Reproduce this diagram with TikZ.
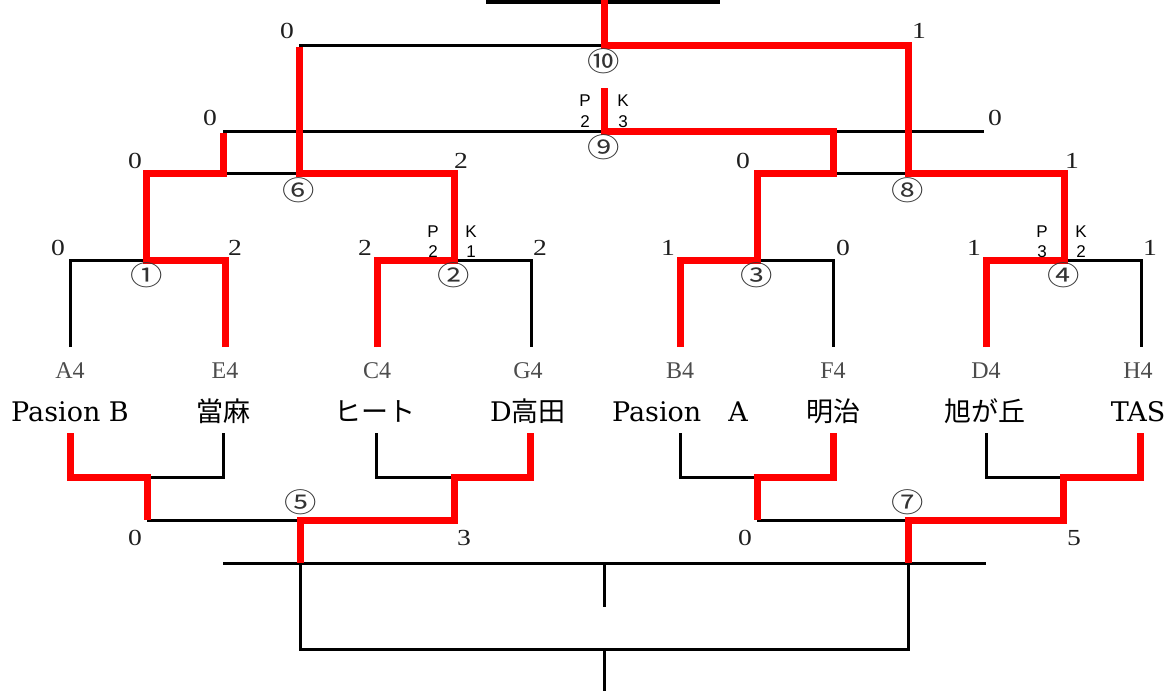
\documentclass[tikz,border=0pt]{standalone}
\usepackage{fontspec}
\setmainfont{Liberation Serif}
\newfontfamily\cjk{Noto Sans CJK JP}
\newfontfamily\circfont[FakeStretch=1.2]{Noto Sans CJK JP}
\newfontfamily\scorefont[FakeStretch=1.2]{Liberation Serif}
\newfontfamily\tfont{DejaVu Serif}
\newfontfamily\pkfont{Liberation Sans}
\begin{document}
\begin{tikzpicture}[x=1pt,y=-1pt,
  blk/.style={line width=3pt,black},
  bar/.style={line width=4.5pt,black},
  win/.style={line width=7pt,red,line join=miter},
  score/.style={font=\scorefont\fontsize{23}{23}\selectfont,inner sep=0pt,anchor=base,text=black!88},
  seed/.style={font=\fontsize{24}{24}\selectfont,inner sep=0pt,anchor=base,text=black!70},
  team/.style={font=\tfont\fontsize{27}{27}\selectfont,inner sep=0pt,anchor=base},
  circ/.style={font=\circfont\fontsize{27}{27}\selectfont,inner sep=0pt,text=black!80},
  pkl/.style={font=\pkfont\fontsize{17}{17}\selectfont,inner sep=0pt,anchor=base}]
\useasboundingbox (0,0) rectangle (1167,691);
% ---------- top half coordinates
\coordinate (tA) at (70,347);  \coordinate (tE) at (225,347);
\coordinate (tC) at (377,347); \coordinate (tG) at (531,347);
\coordinate (tB) at (680,347); \coordinate (tF) at (833,347);
\coordinate (tD) at (986,347); \coordinate (tH) at (1141,347);
\coordinate (m1) at (146,260); \coordinate (m2) at (454,260);
\coordinate (m3) at (757,260); \coordinate (m4) at (1064,260);
\coordinate (m1u) at (146,173); \coordinate (m2u) at (454,173);
\coordinate (m3u) at (757,173); \coordinate (m4u) at (1064,173);
\coordinate (m6) at (299,173); \coordinate (m8) at (908,173);
\coordinate (l6) at (223,173); \coordinate (l8) at (833,173);
\coordinate (n9L) at (223,131); \coordinate (n9R) at (984,131);
\coordinate (n9) at (604,131); \coordinate (l8u) at (833,131);
\coordinate (n9t) at (604,88);
\coordinate (m6t) at (299,45); \coordinate (m8t) at (908,45);
\coordinate (m10) at (604,45); \coordinate (top) at (604,0);
\coordinate (barL) at (486,1.5); \coordinate (barR) at (720,1.5);
% ---------- bottom half coordinates
\coordinate (bA) at (70,433);  \coordinate (bE) at (223,433);
\coordinate (bC) at (376,433); \coordinate (bG) at (530,433);
\coordinate (bB) at (680,433); \coordinate (bF) at (833,433);
\coordinate (bD) at (986,433); \coordinate (bH) at (1140,433);
\coordinate (k1) at (147,477); \coordinate (k2) at (454,477);
\coordinate (k3) at (757,477); \coordinate (k4) at (1063,477);
\coordinate (k1d) at (147,520); \coordinate (k2d) at (454,520);
\coordinate (k3d) at (757,520); \coordinate (k4d) at (1063,520);
\coordinate (k5) at (300,520); \coordinate (k7) at (908,520);
\coordinate (f5) at (300,563); \coordinate (f7) at (908,563);
\coordinate (gL) at (223,563); \coordinate (gR) at (986,563);
\coordinate (gc) at (604,563); \coordinate (gcs) at (604,607);
\coordinate (h5) at (300,649); \coordinate (h7) at (908,649);
\coordinate (hc) at (604,649); \coordinate (hb) at (604,691);
% ---------- black lines
\draw[bar] (barL) -- (barR);
\draw[blk] (tA) |- (m1) -| (tE);
\draw[blk] (tC) |- (m2) -| (tG);
\draw[blk] (tB) |- (m3) -| (tF);
\draw[blk] (tD) |- (m4) -| (tH);
\draw[blk] (m1u) -- (m2u);
\draw[blk] (m3u) -- (m4u);
\draw[blk] (n9L) -- (n9R);
\draw[blk] (m6t) -- (m8t);
\draw[blk] (bA) |- (k1) -| (bE);
\draw[blk] (bC) |- (k2) -| (bG);
\draw[blk] (bB) |- (k3) -| (bF);
\draw[blk] (bD) |- (k4) -| (bH);
\draw[blk] (k1d) -- (k2d);
\draw[blk] (k3d) -- (k4d);
\draw[blk] (gL) -- (gR);
\draw[blk] (gc) -- (gcs);
\draw[blk] (f5) -- (h5) -- (h7) -- (f7);
\draw[blk] (hc) -- (hb);
% ---------- red (winner) lines
\draw[win] (tE) |- (m1) -- (m1u) -- (l6) -- ([yshift=-1.5pt]n9L);
\draw[win] (tC) |- (m2) -- (m2u) -- (m6) -- ([yshift=-1.5pt]m6t);
\draw[win] (tB) |- (m3) -- (m3u) -- (l8) -- (l8u) -- (n9) -- (n9t);
\draw[win] (tD) |- (m4) -- (m4u) -- (m8) -- (m8t) -- (m10) -- (top);
\draw[win] (bA) |- (k1) -- (k1d);
\draw[win] (bG) |- (k2) -- (k2d) -- (k5) -- (f5);
\draw[win] (bF) |- (k3) -- (k3d);
\draw[win] (bH) |- (k4) -- (k4d) -- (k7) -- (f7);
% ---------- scores
\node[score] (s10L) at (287,38) {0};
\node[score] (s10R) at (919,38) {1};
\node[score] (s9L) at (210,125) {0};
\node[score] (s9R) at (995,125) {0};
\node[score] (s6L) at (135,168) {0};
\node[score] (s6R) at (461,168) {2};
\node[score] (s8L) at (743,168) {0};
\node[score] (s8R) at (1072,168) {1};
\node[score] (s1L) at (58,255) {0};
\node[score] (s1R) at (235,255) {2};
\node[score] (s2L) at (365,255) {2};
\node[score] (s2R) at (540,255) {2};
\node[score] (s3L) at (668,255) {1};
\node[score] (s3R) at (843,255) {0};
\node[score] (s4L) at (974,255) {1};
\node[score] (s4R) at (1150,255) {1};
\node[score] (s5L) at (135,545) {0};
\node[score] (s5R) at (464,545) {3};
\node[score] (s7L) at (745,545) {0};
\node[score] (s7R) at (1074,545) {5};
% ---------- match numbers
\node[circ] (c10) at (604,61) {⑩};
\node[circ] (c9) at (604,147) {⑨};
\node[circ] (c6) at (299,190) {⑥};
\node[circ] (c8) at (908,190) {⑧};
\node[circ] (c1) at (147,275) {①};
\node[circ] (c2) at (454,275) {②};
\node[circ] (c3) at (757,275) {③};
\node[circ] (c4) at (1064,275) {④};
\node[circ] (c5) at (301,502) {⑤};
\node[circ] (c7) at (908,502) {⑦};
% ---------- penalty kicks
\node[pkl] (p9a) at (585,106) {P};
\node[pkl] (p9b) at (585,127) {2};
\node[pkl] (p9c) at (623,106) {K};
\node[pkl] (p9d) at (623,127) {3};
\node[pkl] (p2a) at (433,237) {P};
\node[pkl] (p2b) at (433,257) {2};
\node[pkl] (p2c) at (471,237) {K};
\node[pkl] (p2d) at (471,257) {1};
\node[pkl] (p4a) at (1042,237) {P};
\node[pkl] (p4b) at (1042,257) {3};
\node[pkl] (p4c) at (1081,237) {K};
\node[pkl] (p4d) at (1081,257) {2};
% ---------- seeds
\node[seed] (sdA) at (70,378) {A4};
\node[seed] (sdE) at (225,378) {E4};
\node[seed] (sdC) at (377,378) {C4};
\node[seed] (sdG) at (528,378) {G4};
\node[seed] (sdB) at (680,378) {B4};
\node[seed] (sdF) at (833,378) {F4};
\node[seed] (sdD) at (986,378) {D4};
\node[seed] (sdH) at (1138,378) {H4};
% ---------- teams
\node[team] (teA) at (70,421) {Pasion B};
\node[team] (teE) at (223,421) {\cjk 當麻};
\node[team] (teC) at (375,421) {\cjk ヒート};
\node[team] (teG) at (528,421) {D{\cjk 高田}};
\node[team] (teB) at (680,421) {Pasion{\cjk 　}A};
\node[team] (teF) at (833,421) {\cjk 明治};
\node[team] (teD) at (985,421) {\cjk 旭が丘};
\node[team] (teH) at (1138,421) {TAS};
\end{tikzpicture}
\end{document}
